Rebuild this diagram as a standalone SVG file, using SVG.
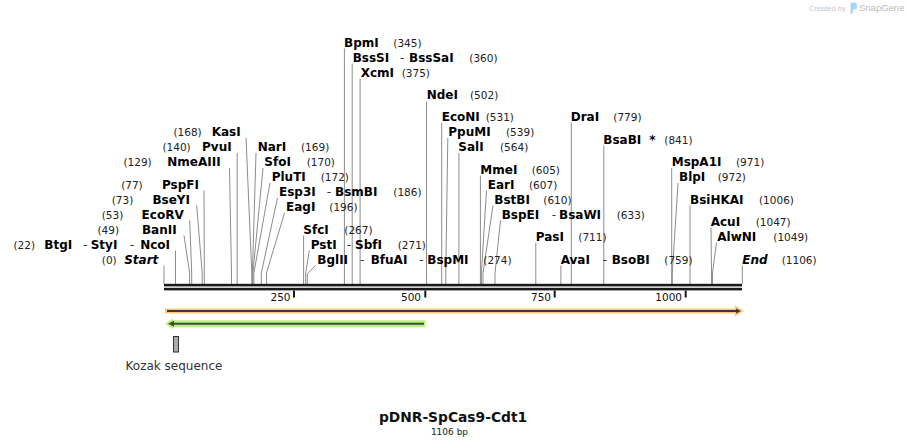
<svg xmlns="http://www.w3.org/2000/svg" width="907" height="447" viewBox="0 0 907 447">
<style>
.n{font-family:"DejaVu Sans",Verdana,sans-serif;font-weight:bold;font-size:12px;fill:#000}
.d{font-family:"DejaVu Sans",Verdana,sans-serif;font-size:12px;fill:#333}
.p{font-family:"DejaVu Sans",Verdana,sans-serif;font-size:10.5px;fill:#222}
.e{text-anchor:end}
.it{font-style:italic}
.tk{font-family:"DejaVu Sans",Verdana,sans-serif;font-size:10.5px;fill:#111;text-anchor:end}
#connectors path{fill:none;stroke:#8c8c8c;stroke-width:1}
</style>
<rect width="907" height="447" fill="#fff"/>
<g id="watermark">
<text x="809" y="10.5" font-family="Liberation Sans,Arial,sans-serif" font-size="7.5" fill="#c8c8c8">Created by</text>
<path d="M850.5 2.5 h4 a2.5 2.5 0 0 1 2.5 2.5 v2 a2.5 2.5 0 0 1 -2.5 2.5 h-1.5 v4 h-2.5 z" fill="#a9d6f2"/>
<text x="859" y="11" font-family="Liberation Sans,Arial,sans-serif" font-size="9.5" fill="#bcbcbc">SnapGene</text>
</g>
<g id="connectors">
<path d="M164 265.5V284"/>
<path d="M175.5 250.5V284"/>
<path d="M184 235.5L189.6 273V284"/>
<path d="M189.7 220.5L191.7 273V284"/>
<path d="M196.7 205.5L202.2 273V284"/>
<path d="M204 190.5L204.3 273V284"/>
<path d="M229.5 168L231.5 273V284"/>
<path d="M237.2 153V284"/>
<path d="M246 138L251.8 273V284"/>
<path d="M256 153L252.4 273V284"/>
<path d="M263 168L252.9 273V284"/>
<path d="M270 183L253.9 273V284"/>
<path d="M277.5 198L261.3 273V284"/>
<path d="M284.5 213L266.5 273V284"/>
<path d="M303.6 235.5V284"/>
<path d="M309.3 250.5L305.7 273V284"/>
<path d="M315.5 265.5L307.3 274V284"/>
<path d="M344.4 48.5V284"/>
<path d="M352.2 63.5V284"/>
<path d="M360.1 78.5V284"/>
<path d="M426.5 101.5V284"/>
<path d="M441.7 123V284"/>
<path d="M447.8 138L445.8 273V284"/>
<path d="M458.9 153V284"/>
<path d="M480.4 175.5V284"/>
<path d="M486.5 190.5L481.4 273V284"/>
<path d="M493 205.5L483 273V284"/>
<path d="M500.5 220.5L495 273V284"/>
<path d="M535.8 242.5V284"/>
<path d="M560.9 265.5V284"/>
<path d="M571.3 122.5V284"/>
<path d="M603.8 145.5V284"/>
<path d="M671.7 168V284"/>
<path d="M678 183L672.3 273V284"/>
<path d="M690 205.5V284"/>
<path d="M711 227.5L711.5 273V284"/>
<path d="M716.5 242.5L712.5 273V284"/>
<path d="M742.3 265.5V284"/>
</g>
<g id="ruler">
<rect x="164" y="283.8" width="578" height="2.6" fill="#1a1a1a"/>
<rect x="164" y="287.8" width="578" height="2.6" fill="#1a1a1a"/>
<rect x="293" y="290.5" width="2" height="7" fill="#1a1a1a"/>
<rect x="424.3" y="290.5" width="2" height="7" fill="#1a1a1a"/>
<rect x="553.7" y="290.5" width="2" height="7" fill="#1a1a1a"/>
<rect x="684.7" y="290.5" width="2" height="7" fill="#1a1a1a"/>
<text class="tk" x="290.5" y="300.5">250</text>
<text class="tk" x="421" y="300.5">500</text>
<text class="tk" x="551" y="300.5">750</text>
<text class="tk" x="682" y="300.5">1000</text>
</g>
<g id="feature-orange">
<polygon points="165,308.5 735,308.5 735,305.5 744,311 735,316.5 735,313.5 165,313.5" fill="#fbc97a"/>
<path d="M167 311H737" stroke="#3a3a3a" stroke-width="2"/>
<polygon points="736,308.5 741,311 736,313.5" fill="#3a3a3a"/>
</g>
<g id="feature-green">
<polygon points="425.5,320.3 173,320.3 173,318.5 165,323.8 173,329.3 173,327.3 425.5,327.3" fill="#b9f27f"/>
<path d="M171 323.8H424" stroke="#3f4a3b" stroke-width="2"/>
<polygon points="168,323.8 174,320.8 174,326.8" fill="#3f4a3b"/>
</g>
<g id="kozak">
<rect x="173.5" y="336.5" width="5" height="15.5" fill="#a8acb1" stroke="#333" stroke-width="1"/>
<text class="d" x="174" y="369.5" text-anchor="middle">Kozak sequence</text>
</g>
<g id="title">
<text x="453" y="421.5" text-anchor="middle" font-family="DejaVu Sans,Verdana,sans-serif" font-weight="bold" font-size="13.8" fill="#111">pDNR-SpCas9-Cdt1</text>
<text x="449.5" y="435" text-anchor="middle" font-family="DejaVu Sans,Verdana,sans-serif" font-size="9" fill="#222">1106 bp</text>
</g>
<g id="site-start"><text class="p e" x="116.7" y="263.5">(0)</text><text class="n it e" x="158.3" y="263.5">Start</text></g>
<g id="site-22"><text class="p e" x="35" y="248.5">(22)</text><text class="n" x="44.3" y="248.5">BtgI</text><text class="d" x="83.3" y="248.5">-</text><text class="n" x="90.7" y="248.5">StyI</text><text class="d" x="130" y="248.5">-</text><text class="n e" x="170" y="248.5">NcoI</text></g>
<g id="site-49"><text class="p e" x="119" y="233.5">(49)</text><text class="n e" x="176.7" y="233.5">BanII</text></g>
<g id="site-53"><text class="p e" x="123.3" y="218.5">(53)</text><text class="n e" x="183.7" y="218.5">EcoRV</text></g>
<g id="site-73"><text class="p e" x="133.3" y="203.5">(73)</text><text class="n e" x="190" y="203.5">BseYI</text></g>
<g id="site-77"><text class="p e" x="142.7" y="188.5">(77)</text><text class="n e" x="199" y="188.5">PspFI</text></g>
<g id="site-129"><text class="p e" x="151.7" y="166">(129)</text><text class="n e" x="220.7" y="166">NmeAIII</text></g>
<g id="site-140"><text class="p e" x="190.7" y="151">(140)</text><text class="n e" x="231.7" y="151">PvuI</text></g>
<g id="site-168"><text class="p e" x="201.7" y="136">(168)</text><text class="n e" x="240.7" y="136">KasI</text></g>
<g id="site-169"><text class="n" x="257.7" y="151">NarI</text><text class="p" x="301" y="151">(169)</text></g>
<g id="site-170"><text class="n" x="264.3" y="166">SfoI</text><text class="p" x="306.7" y="166">(170)</text></g>
<g id="site-172"><text class="n" x="271.7" y="181">PluTI</text><text class="p" x="320.7" y="181">(172)</text></g>
<g id="site-186"><text class="n" x="279" y="196">Esp3I</text><text class="d" x="326.7" y="196">-</text><text class="n" x="335" y="196">BsmBI</text><text class="p" x="393.3" y="196">(186)</text></g>
<g id="site-196"><text class="n" x="286" y="211">EagI</text><text class="p" x="329.3" y="211">(196)</text></g>
<g id="site-267"><text class="n" x="303.3" y="233.5">SfcI</text><text class="p" x="344.3" y="233.5">(267)</text></g>
<g id="site-271"><text class="n" x="310.7" y="248.5">PstI</text><text class="d" x="346.7" y="248.5">-</text><text class="n" x="355" y="248.5">SbfI</text><text class="p" x="397.7" y="248.5">(271)</text></g>
<g id="site-274"><text class="n" x="317.3" y="263.5">BglII</text><text class="d" x="360" y="263.5">-</text><text class="n" x="370.7" y="263.5">BfuAI</text><text class="d" x="419.3" y="263.5">-</text><text class="n" x="427.3" y="263.5">BspMI</text><text class="p" x="483.3" y="263.5">(274)</text></g>
<g id="site-345"><text class="n" x="344" y="46.5">BpmI</text><text class="p" x="393.3" y="46.5">(345)</text></g>
<g id="site-360"><text class="n" x="352.7" y="61.5">BssSI</text><text class="d" x="400" y="61.5">-</text><text class="n" x="409" y="61.5">BssSaI</text><text class="p" x="469.3" y="61.5">(360)</text></g>
<g id="site-375"><text class="n" x="360.7" y="76.5">XcmI</text><text class="p" x="401.7" y="76.5">(375)</text></g>
<g id="site-502"><text class="n" x="426.7" y="99.3">NdeI</text><text class="p" x="470" y="99.3">(502)</text></g>
<g id="site-531"><text class="n" x="441.7" y="121">EcoNI</text><text class="p" x="485.7" y="121">(531)</text></g>
<g id="site-539"><text class="n" x="448.3" y="136">PpuMI</text><text class="p" x="506" y="136">(539)</text></g>
<g id="site-564"><text class="n" x="458.3" y="151">SalI</text><text class="p" x="500" y="151">(564)</text></g>
<g id="site-605"><text class="n" x="480.3" y="174">MmeI</text><text class="p" x="531.7" y="174">(605)</text></g>
<g id="site-607"><text class="n" x="487.7" y="189">EarI</text><text class="p" x="529" y="189">(607)</text></g>
<g id="site-610"><text class="n" x="494.3" y="204">BstBI</text><text class="p" x="543.3" y="204">(610)</text></g>
<g id="site-633"><text class="n" x="501.7" y="219">BspEI</text><text class="d" x="551.7" y="219">-</text><text class="n" x="559" y="219">BsaWI</text><text class="p" x="616.7" y="219">(633)</text></g>
<g id="site-711"><text class="n" x="535.7" y="240.7">PasI</text><text class="p" x="578.3" y="240.7">(711)</text></g>
<g id="site-759"><text class="n" x="560.7" y="264">AvaI</text><text class="d" x="602.7" y="264">-</text><text class="n" x="611.7" y="264">BsoBI</text><text class="p" x="664.3" y="264">(759)</text></g>
<g id="site-779"><text class="n" x="570.7" y="120.7">DraI</text><text class="p" x="613.3" y="120.7">(779)</text></g>
<g id="site-841"><text class="n" x="603.3" y="144">BsaBI</text><text class="n" x="649.3" y="144">*</text><text class="p" x="664.3" y="144">(841)</text></g>
<g id="site-971"><text class="n" x="671.7" y="166.3">MspA1I</text><text class="p" x="736" y="166.3">(971)</text></g>
<g id="site-972"><text class="n" x="679" y="181">BlpI</text><text class="p" x="717.7" y="181">(972)</text></g>
<g id="site-1006"><text class="n" x="690" y="204">BsiHKAI</text><text class="p" x="759" y="204">(1006)</text></g>
<g id="site-1047"><text class="n" x="710.7" y="226">AcuI</text><text class="p" x="755.7" y="226">(1047)</text></g>
<g id="site-1049"><text class="n" x="717.3" y="241.3">AlwNI</text><text class="p" x="773.3" y="241.3">(1049)</text></g>
<g id="site-end"><text class="n it" x="742.3" y="264">End</text><text class="p" x="781.7" y="264">(1106)</text></g>
</svg>
